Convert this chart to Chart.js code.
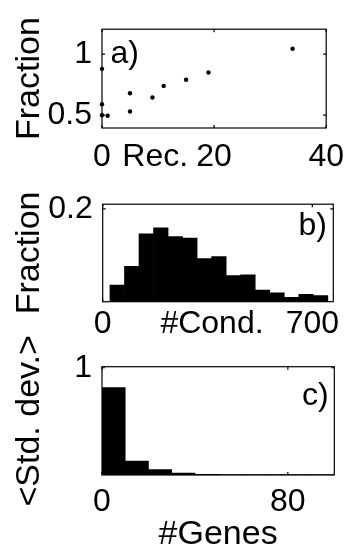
<!DOCTYPE html>
<html>
<head>
<meta charset="utf-8">
<script src="https://cdn.jsdelivr.net/npm/chart.js@4.4.1/dist/chart.umd.min.js"></script>
<style>
  html, body { margin: 0; padding: 0; background: #fff; }
  body { width: 354px; height: 560px; position: relative; overflow: hidden; }
  canvas { position: absolute; left: 0; }
</style>
</head>
<body>
<canvas id="chart-a" width="354" height="185" style="top:0"></canvas>
<canvas id="chart-b" width="354" height="170" style="top:175px"></canvas>
<canvas id="chart-c" width="354" height="230" style="top:330px"></canvas>
<script>
// a) fraction vs. number of recordings
const recX = [0, 0, 0, 1, 5, 5, 9, 11, 15, 19, 34];
const recFraction = [0.88, 0.59, 0.50, 0.495, 0.68, 0.53, 0.645, 0.74, 0.79, 0.85, 1.045];
const recTicks = [0, 20, 40];
const recFractionTicks = [0.5, 1];

// b) histogram of #conditions
const condBins = [48.5, 97, 145.5, 194, 242.5, 291, 339.5, 388, 436.5, 485, 533.5, 582, 630.5, 679, 727.5];
const condFraction = [0.036, 0.076, 0.146, 0.159, 0.140, 0.137, 0.093, 0.097, 0.056, 0.058, 0.025, 0.019, 0.0095, 0.016, 0.013];
const condTicks = [0, 700];
const condFractionTicks = [0.2];

// c) mean std. dev. vs. #genes
const geneBins = [5, 15, 25, 35, 45, 55, 65, 75, 85, 95];
const geneStd = [0.815, 0.13, 0.05, 0.018, 0.006, 0.005, 0.004, 0.004, 0.003, 0.003];
const geneTicks = [0, 80];
const geneStdTicks = [1];

const FONT = "'Liberation Sans', Arial, Helvetica, sans-serif";
Chart.defaults.font.family = FONT;
Chart.defaults.font.size = 32;
Chart.defaults.color = '#000';
Chart.defaults.animation = false;

// matlab-ish box with inward ticks, panel letter and inline x label
const panelBox = {
  id: 'panelBox',
  afterDatasetsDraw(chart, args, opts) {
    const { ctx, chartArea: a, scales } = chart;
    ctx.save();
    ctx.strokeStyle = '#000';
    ctx.lineWidth = 1.2;
    ctx.strokeRect(a.left, a.top, a.right - a.left, a.bottom - a.top);
    ctx.beginPath();
    scales.x.ticks.forEach(t => {
      const px = scales.x.getPixelForValue(t.value);
      ctx.moveTo(px, a.top); ctx.lineTo(px, a.top + 3);
      ctx.moveTo(px, a.bottom); ctx.lineTo(px, a.bottom - 3);
    });
    scales.y.ticks.forEach(t => {
      const py = scales.y.getPixelForValue(t.value);
      ctx.moveTo(a.left, py); ctx.lineTo(a.left + 3, py);
      ctx.moveTo(a.right, py); ctx.lineTo(a.right - 3, py);
    });
    ctx.stroke();

    ctx.fillStyle = '#000';
    ctx.font = '32px ' + FONT;
    ctx.textBaseline = 'alphabetic';
    ctx.textAlign = opts.align;
    const lx = opts.align === 'left' ? a.left + opts.dx : a.right - opts.dx;
    ctx.fillText(opts.letter, lx, a.top + opts.dy);

    if (opts.inline) {
      const xs = scales.x;
      ctx.textAlign = 'center';
      ctx.textBaseline = 'middle';
      ctx.fillText(opts.inline.text, xs.getPixelForValue(opts.inline.at), xs.top + xs.options.ticks.padding + 32 * 1.2 / 2);
    }
    ctx.restore();
  }
};

function axis(range, ticks, size, pad, fitKey, title) {
  return {
    type: 'linear',
    min: range[0],
    max: range[1],
    offset: false,
    grid: { display: false, drawTicks: false },
    border: { display: false },
    afterBuildTicks: s => { s.ticks = ticks.map(v => ({ value: v })); },
    afterFit: s => { s[fitKey] = size; },
    ticks: { padding: pad, autoSkip: false, maxRotation: 0, callback: v => String(v) },
    title: title || { display: false }
  };
}

function createPanel(canvasId, type, datasets, o) {
  const ctx = document.getElementById(canvasId).getContext('2d');
  return new Chart(ctx, {
    type: type,
    data: { datasets: datasets },
    options: {
      responsive: false,
      layout: { padding: { top: o.top, right: o.right, bottom: 0, left: 0 } },
      plugins: { legend: { display: false }, tooltip: { enabled: false }, panelBox: o.box },
      scales: {
        x: axis(o.xRange, o.xTicks, o.xHeight, o.xPad, 'height', o.xTitle),
        y: axis(o.yRange, o.yTicks, o.yWidth, 10, 'width', {
          display: true, text: o.yTitle, font: { size: 34 }, padding: { top: 9, bottom: 0 }
        })
      }
    },
    plugins: [panelBox]
  });
}

const chartA = createPanel('chart-a', 'scatter', [{
  data: recX.map((x, i) => ({ x: x, y: recFraction[i] })),
  pointRadius: 2.2, pointBackgroundColor: '#000', pointBorderWidth: 0, clip: false
}], {
  top: 20, right: 20, xHeight: 57, yWidth: 102, xPad: 10,
  xRange: [0, 40], yRange: [0.395, 1.205], xTicks: recTicks, yTicks: recFractionTicks,
  yTitle: 'Fraction',
  box: { letter: 'a)', align: 'left', dx: 8.5, dy: 33.5, inline: { text: 'Rec.', at: 9.5 } }
});

const chartB = createPanel('chart-b', 'bar', [{
  data: condBins.map((x, i) => ({ x: x, y: condFraction[i] })),
  backgroundColor: '#000', borderWidth: 0, barPercentage: 1, categoryPercentage: 1
}], {
  top: 19.3, right: 20.7, xHeight: 43.3, yWidth: 102.7, xPad: 3.5,
  xRange: [0, 770], yRange: [0, 0.21], xTicks: condTicks, yTicks: condFractionTicks,
  yTitle: 'Fraction',
  box: { letter: 'b)', align: 'right', dx: 6.3, dy: 30.7, inline: { text: '#Cond.', at: 365 } }
});

const chartC = createPanel('chart-c', 'bar', [{
  data: geneBins.map((x, i) => ({ x: x, y: geneStd[i] })),
  backgroundColor: '#000', borderWidth: 0, barPercentage: 1, categoryPercentage: 1
}], {
  top: 36.7, right: 19.7, xHeight: 85, yWidth: 102, xPad: 7.5,
  xRange: [0, 100], yRange: [0, 1.01], xTicks: geneTicks, yTicks: geneStdTicks,
  yTitle: '<Std. dev.>',
  xTitle: { display: true, text: '#Genes', font: { size: 34 }, padding: { top: 0, bottom: 5 } },
  box: { letter: 'c)', align: 'right', dx: 5.6, dy: 38.3 }
});
</script>
</body>
</html>
